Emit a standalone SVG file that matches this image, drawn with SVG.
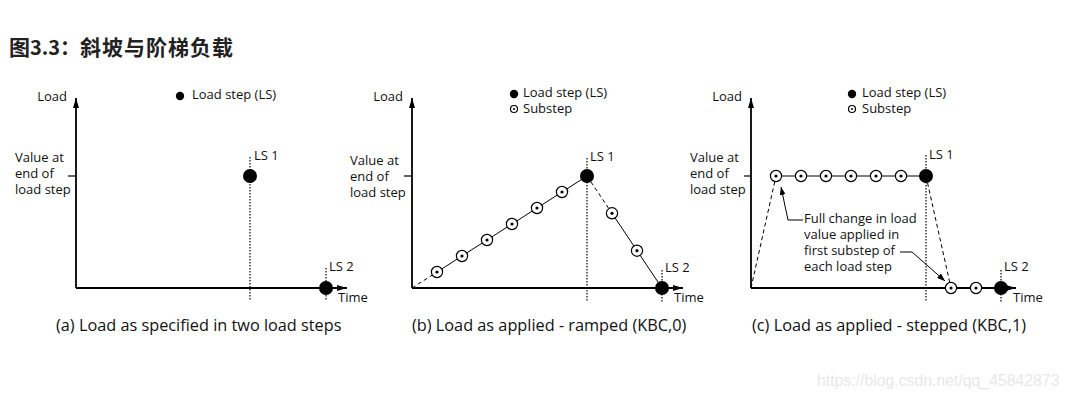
<svg xmlns="http://www.w3.org/2000/svg" width="1070" height="398" viewBox="0 0 1070 398">
<defs>
<style>
text{font-family:"Open Sans","Noto Sans",sans-serif;fill:#111;}
.t{font-size:13px;}
.cap{font-size:16.3px;}
.title{font-family:"Noto Sans CJK SC","Noto Sans",sans-serif;font-size:20px;font-weight:bold;fill:#222;}
.wm{font-family:"Liberation Sans",Arial,sans-serif;font-size:15.8px;fill:#e8e8e8;}
.axis{stroke:#000;stroke-width:1.8;fill:none;}
.tick{stroke:#000;stroke-width:1.2;}
.dot{stroke:#000;stroke-width:1.2;stroke-dasharray:1.5 1.5;fill:none;}
.dash{stroke:#000;stroke-width:1;stroke-dasharray:4 3;fill:none;}
.ln{stroke:#000;stroke-width:1;fill:none;}
.ls{fill:#000;}
.ss{fill:#fff;stroke:#000;stroke-width:1.2;}
.ssd{fill:#000;}
</style>
<marker id="ah" viewBox="0 0 10 6" refX="10" refY="3" markerWidth="10" markerHeight="6" markerUnits="userSpaceOnUse" orient="auto"><path d="M0,0 L10,3 L0,6 Z" fill="#000"/></marker>
<marker id="sa" viewBox="0 0 8 6" refX="8" refY="3" markerWidth="8" markerHeight="6" markerUnits="userSpaceOnUse" orient="auto"><path d="M0,0 L8,3 L0,6 Z" fill="#000"/></marker>
<g id="sub"><circle r="5.6" class="ss"/><circle r="1.6" class="ssd"/></g>
</defs>
<rect width="1070" height="398" fill="#fff"/>
<text class="title" x="9" y="55"><tspan font-size="21">图</tspan>3.3：<tspan font-size="21" letter-spacing="1">斜坡与阶梯负载</tspan></text>

<!-- Panel A -->
<g id="panelA">
<g id="axesA">
<line class="axis" x1="76" y1="288" x2="76" y2="98" marker-end="url(#ah)"/>
<line class="axis" x1="76" y1="288" x2="347" y2="288" marker-end="url(#ah)"/>
<line class="tick" x1="68" y1="176" x2="76" y2="176"/>
</g>
<text class="t" x="67" y="101" text-anchor="end">Load</text>
<text class="t" x="15" y="162">Value at</text>
<text class="t" x="15" y="178">end of</text>
<text class="t" x="15" y="194">load step</text>
<text class="t" x="338" y="302">Time</text>
<g id="legendA"><circle cx="180" cy="96" r="4.2" class="ls"/><text class="t" x="192" y="99">Load step (LS)</text></g>
<g id="connectorsA">
<line class="dot" x1="250" y1="157" x2="250" y2="300"/>
<line class="dot" x1="326" y1="268" x2="326" y2="300"/>
</g>
<g id="A_LS1"><circle cx="250" cy="176" r="7" class="ls"/><text class="t" x="254" y="160">LS 1</text></g>
<g id="A_LS2"><circle cx="326" cy="288" r="7" class="ls"/><text class="t" x="329" y="271">LS 2</text></g>
<text class="cap" x="56" y="331">(a) Load as specified in two load steps</text>
</g>

<!-- Panel B -->
<g id="panelB">
<g id="axesB">
<line class="axis" x1="412" y1="288" x2="412" y2="98" marker-end="url(#ah)"/>
<line class="axis" x1="412" y1="288" x2="683" y2="288" marker-end="url(#ah)"/>
<line class="tick" x1="404" y1="176" x2="412" y2="176"/>
</g>
<text class="t" x="403" y="101" text-anchor="end">Load</text>
<text class="t" x="350" y="165">Value at</text>
<text class="t" x="350" y="181">end of</text>
<text class="t" x="350" y="197">load step</text>
<text class="t" x="674" y="302">Time</text>
<g id="legendB">
<circle cx="514" cy="94" r="4.2" class="ls"/><text class="t" x="523" y="97">Load step (LS)</text>
<circle cx="514" cy="109" r="3.5" class="ss"/><circle cx="514" cy="109" r="1" class="ssd"/><text class="t" x="523" y="113">Substep</text>
</g>
<g id="connectorsB">
<line class="dash" x1="412" y1="288" x2="437" y2="272"/>
<line class="ln" x1="437" y1="272" x2="587" y2="176"/>
<line class="dash" x1="587" y1="176" x2="612" y2="213.3"/>
<line class="ln" x1="612" y1="213.3" x2="662" y2="288"/>
<line class="dot" x1="587" y1="158" x2="587" y2="302"/>
<line class="dot" x1="662" y1="270" x2="662" y2="302"/>
</g>
<g id="B_subs">
<use href="#sub" x="437" y="272"/>
<use href="#sub" x="462" y="256"/>
<use href="#sub" x="487" y="240"/>
<use href="#sub" x="512" y="224"/>
<use href="#sub" x="537" y="208"/>
<use href="#sub" x="562" y="192"/>
<use href="#sub" x="612" y="213.3"/>
<use href="#sub" x="637" y="250.7"/>
</g>
<g id="B_LS1"><circle cx="587" cy="176" r="7" class="ls"/><text class="t" x="590" y="161">LS 1</text></g>
<g id="B_LS2"><circle cx="662" cy="288" r="7" class="ls"/><text class="t" x="665" y="272">LS 2</text></g>
<text class="cap" x="412" y="331">(b) Load as applied - ramped (KBC,0)</text>
</g>

<!-- Panel C -->
<g id="panelC">
<g id="axesC">
<line class="axis" x1="751" y1="288" x2="751" y2="98" marker-end="url(#ah)"/>
<line class="axis" x1="751" y1="288" x2="1016" y2="288" marker-end="url(#ah)"/>
<line class="tick" x1="744" y1="176" x2="751" y2="176"/>
</g>
<text class="t" x="742" y="101" text-anchor="end">Load</text>
<text class="t" x="690" y="162">Value at</text>
<text class="t" x="690" y="178">end of</text>
<text class="t" x="690" y="194">load step</text>
<text class="t" x="1013" y="302">Time</text>
<g id="legendC">
<circle cx="852" cy="94" r="4.2" class="ls"/><text class="t" x="862" y="97">Load step (LS)</text>
<circle cx="852" cy="109" r="3.5" class="ss"/><circle cx="852" cy="109" r="1" class="ssd"/><text class="t" x="862" y="113">Substep</text>
</g>
<g id="connectorsC">
<line class="dash" x1="751" y1="288" x2="776" y2="176"/>
<line class="ln" x1="776" y1="176" x2="926" y2="176"/>
<line class="dash" x1="926" y1="176" x2="951" y2="288"/>
<line class="dot" x1="926" y1="155" x2="926" y2="302"/>
<line class="dot" x1="1001" y1="270" x2="1001" y2="302"/>
<polyline class="ln" points="803,220 788,220 781,187" marker-end="url(#sa)"/>
<polyline class="ln" points="900,252 912,252 945,281" marker-end="url(#sa)"/>
</g>
<g id="C_subs">
<use href="#sub" x="776" y="176"/>
<use href="#sub" x="801" y="176"/>
<use href="#sub" x="826" y="176"/>
<use href="#sub" x="851" y="176"/>
<use href="#sub" x="876" y="176"/>
<use href="#sub" x="901" y="176"/>
<use href="#sub" x="951" y="288"/>
<use href="#sub" x="976" y="288"/>
</g>
<g id="C_LS1"><circle cx="926" cy="176" r="7" class="ls"/><text class="t" x="929" y="159">LS 1</text></g>
<g id="C_LS2"><circle cx="1001" cy="288" r="7" class="ls"/><text class="t" x="1004" y="271">LS 2</text></g>
<g id="annotC">
<text class="t" x="804" y="223">Full change in load</text>
<text class="t" x="804" y="239">value applied in</text>
<text class="t" x="804" y="255">first substep of</text>
<text class="t" x="804" y="271">each load step</text>
</g>
<text class="cap" x="752" y="331">(c) Load as applied - stepped (KBC,1)</text>
</g>

<text class="wm" x="817" y="386">https://blog.csdn.net/qq_45842873</text>
</svg>
